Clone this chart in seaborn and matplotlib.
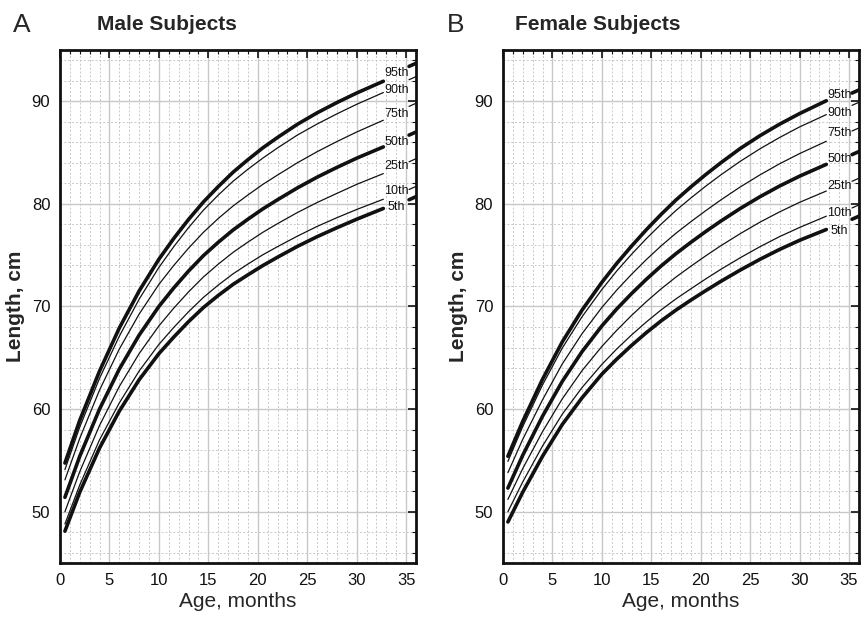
import matplotlib
matplotlib.use('Agg')
import matplotlib.pyplot as plt
import seaborn as sns
from matplotlib.ticker import MultipleLocator

age = [0.5, 2, 4, 6, 8, 10, 11.5, 13, 14.5, 16, 17.5, 19, 20.5, 22, 24, 26, 28, 30, 32.7]
stub_age = [35.3, 36.0]
pct_names = ['95th', '90th', '75th', '50th', '25th', '10th', '5th']

# Male subjects, length in cm
male_p95 = [54.74, 58.9, 63.7, 67.9, 71.5, 74.6, 76.62, 78.48, 80.18, 81.68, 83.08, 84.3, 85.45, 86.47, 87.75, 88.87, 89.87, 90.8, 91.95]
male_p90 = [54.1, 58.25, 63.0, 67.1, 70.7, 73.8, 75.82, 77.68, 79.38, 80.85, 82.2, 83.37, 84.45, 85.45, 86.7, 87.78, 88.77, 89.7, 90.85]
male_p75 = [53.1, 57.15, 61.85, 65.85, 69.25, 72.15, 73.99, 75.68, 77.22, 78.57, 79.79, 80.86, 81.89, 82.81, 84.0, 85.08, 86.07, 87.0, 88.15]
male_p50 = [51.4, 55.4, 60.0, 63.9, 67.2, 70.0, 71.8, 73.45, 74.95, 76.25, 77.45, 78.5, 79.5, 80.4, 81.55, 82.6, 83.55, 84.45, 85.55]
male_p25 = [50.0, 53.9, 58.4, 62.2, 65.4, 68.1, 69.83, 71.42, 72.87, 74.12, 75.27, 76.27, 77.22, 78.07, 79.15, 80.13, 81.02, 81.9, 82.95]
male_p10 = [48.8, 52.6, 57.0, 60.6, 63.7, 66.3, 67.95, 69.48, 70.88, 72.08, 73.18, 74.13, 75.03, 75.83, 76.85, 77.8, 78.65, 79.45, 80.45]
male_p5 = [48.1, 51.9, 56.2, 59.8, 62.85, 65.4, 67.01, 68.52, 69.89, 71.07, 72.15, 73.08, 73.98, 74.8, 75.85, 76.8, 77.67, 78.5, 79.55]
male_stubs = [[93.4, 93.7], [92.1, 92.4], [89.5, 89.8], [86.7, 87.0], [84.1, 84.4], [81.4, 81.7], [80.4, 80.7]]

# Female subjects, length in cm
female_p95 = [55.4, 58.8, 62.9, 66.55, 69.65, 72.35, 74.19, 75.88, 77.48, 78.98, 80.38, 81.65, 82.85, 83.98, 85.4, 86.65, 87.78, 88.8, 90.05]
female_p90 = [54.9, 58.3, 62.35, 65.95, 69.0, 71.65, 73.45, 75.08, 76.61, 78.03, 79.36, 80.57, 81.72, 82.8, 84.15, 85.37, 86.48, 87.5, 88.7]
female_p75 = [53.8, 57.05, 60.9, 64.4, 67.35, 69.9, 71.59, 73.13, 74.57, 75.91, 77.14, 78.26, 79.33, 80.36, 81.65, 82.83, 83.92, 84.9, 86.1]
female_p50 = [52.3, 55.5, 59.3, 62.7, 65.6, 68.1, 69.75, 71.25, 72.65, 73.95, 75.15, 76.25, 77.3, 78.3, 79.55, 80.7, 81.75, 82.7, 83.85]
female_p25 = [51.2, 54.2, 57.8, 61.0, 63.75, 66.1, 67.67, 69.12, 70.47, 71.72, 72.87, 73.92, 74.93, 75.9, 77.1, 78.22, 79.23, 80.15, 81.25]
female_p10 = [50.0, 52.9, 56.4, 59.5, 62.1, 64.35, 65.85, 67.22, 68.49, 69.67, 70.74, 71.72, 72.68, 73.6, 74.75, 75.83, 76.82, 77.7, 78.8]
female_p5 = [49.0, 51.9, 55.4, 58.5, 61.1, 63.4, 64.86, 66.2, 67.45, 68.6, 69.65, 70.62, 71.54, 72.43, 73.55, 74.6, 75.57, 76.45, 77.5]
female_stubs = [[90.8, 91.1], [89.6, 89.9], [87.1, 87.4], [84.8, 85.1], [82.2, 82.5], [79.6, 79.9], [78.5, 78.8]]

male = [male_p95, male_p90, male_p75, male_p50, male_p25, male_p10, male_p5]
female = [female_p95, female_p90, female_p75, female_p50, female_p25, female_p10, female_p5]

sns.set_theme(style='white')
plt.rcParams['font.family'] = ['Liberation Sans', 'DejaVu Sans']

fig = plt.figure(figsize=(8.63, 6.19), dpi=100)
ax_a = fig.add_axes([0.0695, 0.0905, 0.4125, 0.8288])
ax_b = fig.add_axes([0.5828, 0.0905, 0.4125, 0.8288])

thick = {'95th': 2.6, '50th': 2.6, '5th': 2.6}
# small vertical nudges for the percentile labels
nudge_m = {'95th': 0.8, '90th': 0.2, '75th': 0.6, '50th': 0.5, '25th': 0.7, '10th': 0.8, '5th': 0.1}
nudge_f = {'95th': 0.6, '90th': 0.15, '75th': 0.85, '50th': 0.5, '25th': 0.5, '10th': 0.35, '5th': -0.15}


def draw_panel(ax, curves, stubs, nudge, title, title_x):
    for name, vals, stub in zip(pct_names, curves, stubs):
        lw = thick.get(name, 0.9)
        sns.lineplot(x=age, y=vals, ax=ax, color='#111111', linewidth=lw, sort=False, estimator=None)
        sns.lineplot(x=stub_age, y=stub, ax=ax, color='#111111', linewidth=lw, sort=False, estimator=None)
        lx = 32.8 if name != '5th' else 33.1
        ax.text(lx, vals[-1] + nudge[name], name, fontsize=9, ha='left', va='center', color='#111111')

    ax.set_xlim(0, 36)
    ax.set_ylim(45, 95)
    ax.xaxis.set_major_locator(MultipleLocator(5))
    ax.xaxis.set_minor_locator(MultipleLocator(1))
    ax.yaxis.set_major_locator(MultipleLocator(10))
    ax.yaxis.set_minor_locator(MultipleLocator(2))
    ax.set_axisbelow(True)
    ax.grid(which='major', color='#c8c8c8', linewidth=1.0, linestyle='-')
    ax.grid(which='minor', color='#c8c8c8', linewidth=0.7, linestyle=(0, (2, 2)))
    ax.tick_params(which='both', direction='in', top=True, right=True, colors='#111111')
    ax.tick_params(which='major', length=6, width=1.2, labelsize=12, pad=7)
    ax.tick_params(which='minor', length=3, width=0.8)
    for sp in ax.spines.values():
        sp.set_linewidth(2)
        sp.set_color('#111111')
    ax.set_xlabel('Age, months', fontsize=15, labelpad=3)
    ax.set_ylabel('Length, cm', fontsize=15, fontweight='bold', labelpad=5)
    ax.text(title_x, 1.049, title, transform=ax.transAxes, fontsize=15,
            fontweight='bold', ha='left', va='center')


draw_panel(ax_a, male, male_stubs, nudge_m, 'Male Subjects', 0.104)
draw_panel(ax_b, female, female_stubs, nudge_f, 'Female Subjects', 0.034)

fig.text(0.015, 0.96, 'A', fontsize=19, ha='left', va='center')
fig.text(0.518, 0.96, 'B', fontsize=19, ha='left', va='center')

fig.savefig('out.png', dpi=100, facecolor='white')
